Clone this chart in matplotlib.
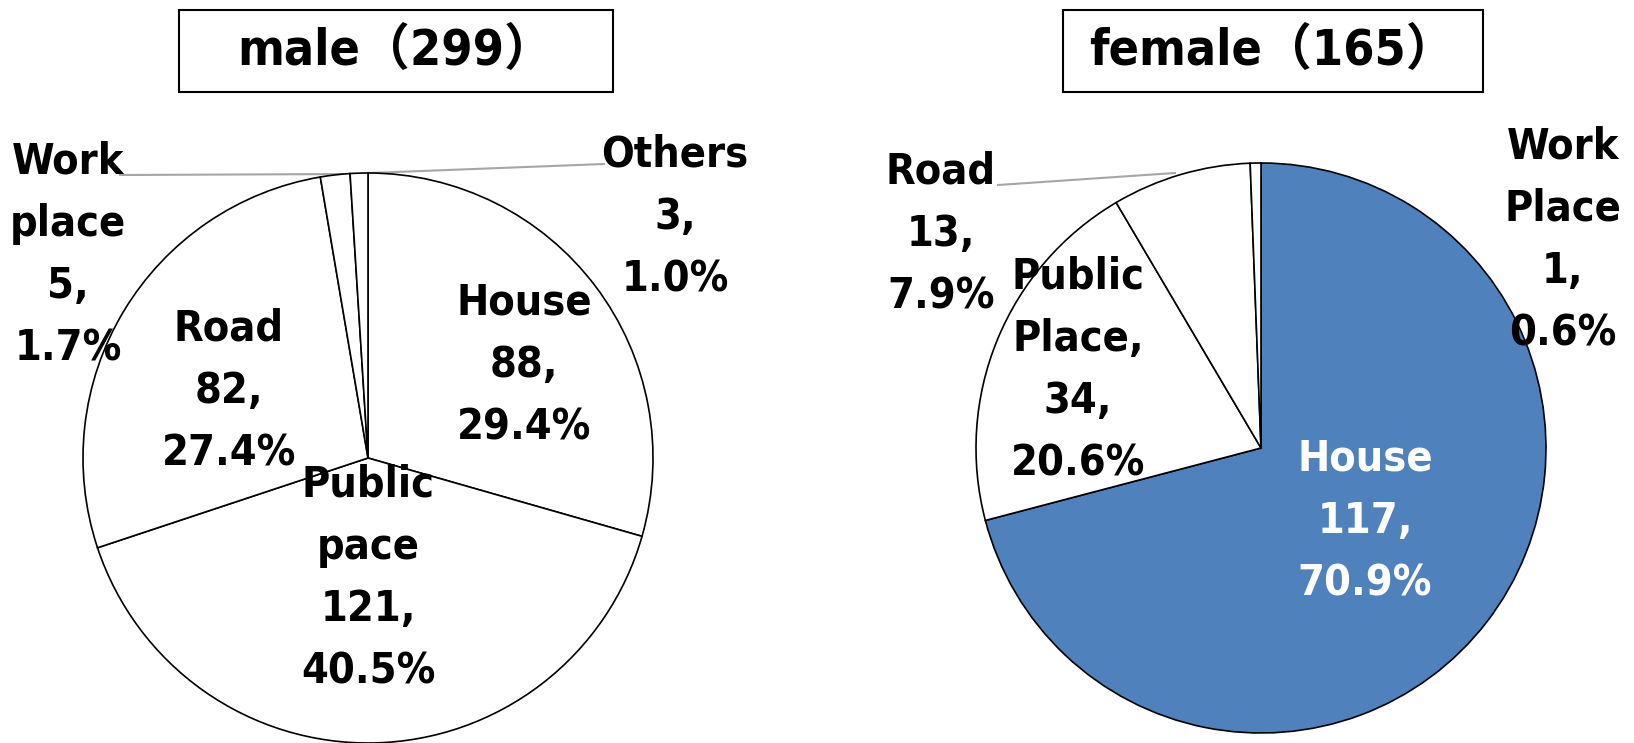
import matplotlib.pyplot as plt
from matplotlib.patches import Rectangle

# data
male_places = ['House', 'Public\npace', 'Road', 'Work\nplace', 'Others']
male_counts = [88, 121, 82, 5, 3]
female_places = ['House', 'Public\nPlace,', 'Road', 'Work\nPlace']
female_counts = [117, 34, 13, 1]

male_colors = ['white'] * 5
female_colors = ['#4F81BD', 'white', 'white', 'white']

FONT = ['DejaVu Sans', 'Noto Sans CJK JP']

# layout (pixels, y up)
male_center, female_center, R = (368, 285), (1261, 295), 285
male_label_pos = [(524, 378), (368, 165), (229, 352), (68, 488), (675, 526)]
female_label_pos = [(1365, 222), (1078, 373), (941, 509), (1563, 503)]


def label_text(name, n, total):
    return f"{name}\n{n},\n{100 * n / total:.1f}%"


fig = plt.figure(figsize=(16.34, 7.43), dpi=100)
ax = fig.add_axes([0, 0, 1, 1])

for center, counts, colors in [(male_center, male_counts, male_colors),
                               (female_center, female_counts, female_colors)]:
    ax.pie(counts, colors=colors, startangle=90, counterclock=False,
           center=center, radius=R, frame=False,
           wedgeprops=dict(edgecolor='black', linewidth=1.2))

ax.set_xlim(0, 1634)
ax.set_ylim(0, 743)
ax.set_aspect('equal')
ax.axis('off')

# leader lines
ax.plot([120, 354], [568, 569], color='#A6A6A6', lw=1.5, zorder=0)
ax.plot([604, 370], [579, 570], color='#A6A6A6', lw=1.5, zorder=0)
ax.plot([998, 1175], [558, 570], color='#A6A6A6', lw=1.5, zorder=0)

style = dict(ha='center', va='center', fontsize=31, fontweight='bold',
             family=FONT, fontstretch='condensed', linespacing=1.62)

tot = sum(male_counts)
for name, n, (x, y) in zip(male_places, male_counts, male_label_pos):
    ax.text(x, y, label_text(name, n, tot), **style)

tot = sum(female_counts)
for i, (name, n, (x, y)) in enumerate(zip(female_places, female_counts, female_label_pos)):
    ax.text(x, y, label_text(name, n, tot), color='white' if i == 0 else 'black', **style)

# title boxes
for (x0, w), title in [((179, 434), f"male（{sum(male_counts)}）"),
                       ((1063, 420), f"female（{sum(female_counts)}）")]:
    ax.add_patch(Rectangle((x0, 651), w, 82, fill=False, edgecolor='black', lw=1.5))
    ax.text(x0 + w / 2, 692, title, ha='center', va='center',
            fontsize=36, fontweight='bold', family=FONT, fontstretch='condensed')

fig.savefig('out.png', dpi=100)
